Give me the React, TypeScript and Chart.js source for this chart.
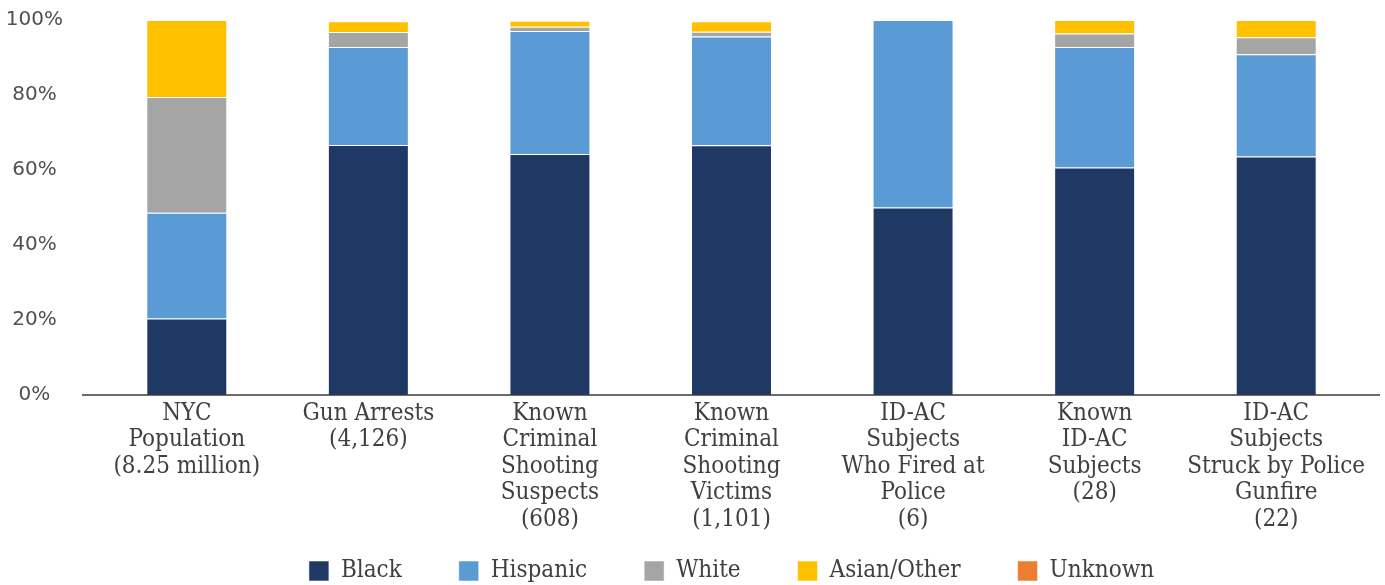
import React, { useEffect, useRef } from "react";
import { Chart, registerables } from "chart.js";

Chart.register(...registerables);

const categories: string[][] = [
  ["NYC", "Population", "(8.25 million)"],
  ["Gun Arrests", "(4,126)"],
  ["Known", "Criminal", "Shooting", "Suspects", "(608)"],
  ["Known", "Criminal", "Shooting", "Victims", "(1,101)"],
  ["ID-AC", "Subjects", "Who Fired at", "Police", "(6)"],
  ["Known", "ID-AC", "Subjects", "(28)"],
  ["ID-AC", "Subjects", "Struck by Police", "Gunfire", "(22)"],
];

const black = [20.4, 66.7, 64.3, 66.6, 50.0, 60.7, 63.6];
const hispanic = [28.2, 26.1, 32.8, 29.0, 50.0, 32.1, 27.3];
const white = [30.9, 4.0, 1.1, 1.3, 0, 3.6, 4.5];
const asianOther = [20.5, 2.9, 1.6, 2.8, 0, 3.6, 4.6];
const unknown = [0, 0, 0, 0, 0, 0, 0];

const yTicks = [0, 20, 40, 60, 80, 100];

const seriesNames = ["Black", "Hispanic", "White", "Asian/Other", "Unknown"];
const seriesColors = ["#203864", "#5B9BD5", "#A5A5A5", "#FFC000", "#ED7D31"];

const labelFont = "'DejaVu Serif Condensed', 'DejaVu Serif', serif";
const tickFont = "'DejaVu Sans', sans-serif";

const CANVAS_TOP = -25;
const CANVAS_H = 618;

const axisLinePlugin = {
  id: "axisLine",
  afterDatasetsDraw(chart: any) {
    const { ctx, chartArea } = chart;
    ctx.save();
    ctx.strokeStyle = "#3a3a3a";
    ctx.lineWidth = 1.5;
    ctx.beginPath();
    ctx.moveTo(chartArea.left - 14, chartArea.bottom);
    ctx.lineTo(chartArea.right + 13, chartArea.bottom);
    ctx.stroke();
    ctx.restore();
  },
};

export default function App() {
  const ref = useRef<HTMLCanvasElement | null>(null);

  useEffect(() => {
    if (!ref.current) return;
    const values = [black, hispanic, white, asianOther, unknown];
    const chart = new Chart(ref.current, {
      type: "bar",
      data: {
        labels: categories,
        datasets: values.map((d, i) => ({
          label: seriesNames[i],
          data: d,
          backgroundColor: seriesColors[i],
          borderColor: "rgba(255,255,255,0.55)",
          borderWidth: 1,
          barPercentage: 0.446,
          categoryPercentage: 1,
        })),
      },
      options: {
        animation: false,
        responsive: false,
        maintainAspectRatio: false,
        layout: { padding: { top: 0, right: 18, left: 0, bottom: 0 } },
        plugins: {
          tooltip: { enabled: false },
          legend: {
            position: "bottom",
            fullSize: false,
            labels: {
              boxWidth: 20,
              boxHeight: 20,
              padding: 57,
              color: "#404040",
              font: { family: labelFont, size: 24 },
            },
          },
        },
        scales: {
          x: {
            stacked: true,
            grid: { display: false, drawTicks: false },
            border: { display: false },
            afterFit: (s: any) => {
              s.height = 107;
              s._computeLabelArea = () => undefined;
            },
            ticks: {
              autoSkip: false,
              maxRotation: 0,
              minRotation: 0,
              padding: 5,
              color: "#404040",
              font: { family: labelFont, size: 24, lineHeight: 1.11 },
            },
          },
          y: {
            stacked: true,
            min: 0,
            max: 100,
            afterBuildTicks: (s: any) => {
              s.ticks = yTicks.map((v) => ({ value: v }));
            },
            grid: { display: false, drawTicks: false },
            border: { display: false },
            afterFit: (s: any) => {
              s.width = 96;
            },
            ticks: {
              padding: 33,
              crossAlign: "center",
              color: "#505050",
              font: { family: tickFont, size: 20 },
              callback: (v: any) => v + "%",
            },
          },
        },
      },
      plugins: [axisLinePlugin],
    });
    return () => chart.destroy();
  }, []);

  return (
    <div style={{ position: "fixed", left: 0, top: 0, width: 1385, height: 585, background: "#fff", overflow: "hidden" }}>
      <canvas
        ref={ref}
        width={1385}
        height={CANVAS_H}
        style={{ position: "absolute", left: 0, top: CANVAS_TOP, width: 1385, height: CANVAS_H }}
      />
    </div>
  );
}
